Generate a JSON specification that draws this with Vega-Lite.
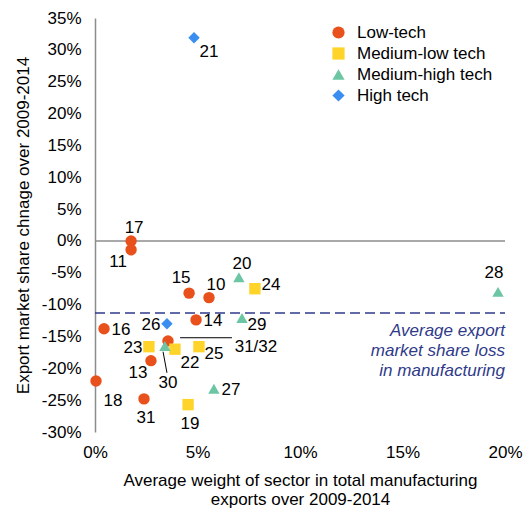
{
  "$schema": "https://vega.github.io/schema/vega-lite/v6.json",
  "width": 410,
  "height": 414,
  "autosize": {"type": "none"},
  "padding": {"left": 95, "top": 18, "right": 21, "bottom": 78},
  "background": "white",
  "config": {
    "font": "Liberation Sans",
    "view": {"stroke": null},
    "text": {"font": "Liberation Sans", "fontSize": 17, "color": "#000"}
  },
  "datasets": {
    "pts": [
      {"label": "17", "cat": "Low-tech", "x": 1.76, "y": 0.0},
      {"label": "11", "cat": "Low-tech", "x": 1.76, "y": -1.4},
      {"label": "15", "cat": "Low-tech", "x": 4.59, "y": -8.2},
      {"label": "10", "cat": "Low-tech", "x": 5.56, "y": -8.9},
      {"label": "14", "cat": "Low-tech", "x": 4.93, "y": -12.4},
      {"label": "16", "cat": "Low-tech", "x": 0.44, "y": -13.8},
      {"label": "31/32", "cat": "Low-tech", "x": 3.56, "y": -15.7},
      {"label": "13", "cat": "Low-tech", "x": 2.73, "y": -18.8},
      {"label": "18", "cat": "Low-tech", "x": 0.05, "y": -22.0},
      {"label": "31", "cat": "Low-tech", "x": 2.39, "y": -24.8},
      {"label": "24", "cat": "Medium-low tech", "x": 7.8, "y": -7.5},
      {"label": "23", "cat": "Medium-low tech", "x": 2.63, "y": -16.6},
      {"label": "22", "cat": "Medium-low tech", "x": 3.9, "y": -17.0},
      {"label": "25", "cat": "Medium-low tech", "x": 5.07, "y": -16.6},
      {"label": "19", "cat": "Medium-low tech", "x": 4.54, "y": -25.7},
      {"label": "20", "cat": "Medium-high tech", "x": 7.02, "y": -5.7},
      {"label": "28", "cat": "Medium-high tech", "x": 19.66, "y": -8.0},
      {"label": "29", "cat": "Medium-high tech", "x": 7.17, "y": -12.1},
      {"label": "30", "cat": "Medium-high tech", "x": 3.41, "y": -16.5},
      {"label": "27", "cat": "Medium-high tech", "x": 5.8, "y": -23.2},
      {"label": "21", "cat": "High tech", "x": 4.83, "y": 31.9},
      {"label": "26", "cat": "High tech", "x": 3.51, "y": -13.0}
    ],
    "zero": [{"x": 0, "x2": 20, "y": 0}],
    "avg": [{"x": 0, "x2": 20, "y": -11.3}],
    "leaders": [
      {"x": 4.15, "x2": 6.68, "y": -15.2, "y2": -15.2},
      {"x": 3.32, "x2": 3.51, "y": -17.4, "y2": -20.7}
    ]
  },
  "encoding": {
    "x": {
      "field": "x", "type": "quantitative",
      "scale": {"domain": [0, 20], "nice": false, "zero": false},
      "axis": {
        "values": [0, 5, 10, 15, 20],
        "labelExpr": "datum.value + '%'",
        "domain": false, "ticks": false, "grid": false, "labelFlush": false,
        "labelOverlap": false, "labelBound": false,
        "labelFontSize": 17, "labelColor": "#000", "labelPadding": 12,
        "labelFont": "Liberation Sans",
        "title": ["Average weight of sector in total manufacturing", "exports over 2009-2014"],
        "titleFontSize": 17, "titleFontWeight": "normal", "titleColor": "#000",
        "titleFont": "Liberation Sans", "titlePadding": 12, "titleLineHeight": 19
      }
    },
    "y": {
      "field": "y", "type": "quantitative",
      "scale": {"domain": [-30, 35], "nice": false, "zero": false},
      "axis": {
        "values": [-30, -25, -20, -15, -10, -5, 0, 5, 10, 15, 20, 25, 30, 35],
        "labelExpr": "datum.value + '%'",
        "domain": true, "domainColor": "#8c8c8c", "domainWidth": 1.5,
        "ticks": false, "grid": false, "labelFlush": false,
        "labelOverlap": false, "labelBound": false,
        "labelFontSize": 17, "labelColor": "#000", "labelPadding": 14,
        "labelFont": "Liberation Sans",
        "title": "Export market share chnage over 2009-2014",
        "titleFontSize": 17, "titleFontWeight": "normal", "titleColor": "#000",
        "titleFont": "Liberation Sans", "titlePadding": 9
      }
    }
  },
  "layer": [
    {
      "data": {"name": "zero"},
      "mark": {"type": "rule", "color": "#8c8c8c", "strokeWidth": 1.5},
      "encoding": {"x2": {"field": "x2"}}
    },
    {
      "data": {"name": "avg"},
      "mark": {"type": "rule", "color": "#2F3A8A", "strokeWidth": 1.5, "strokeDash": [10, 5]},
      "encoding": {"x2": {"field": "x2"}}
    },
    {
      "data": {"name": "avg"},
      "mark": {"type": "text", "align": "right", "baseline": "top", "fontStyle": "italic", "color": "#2F3A8A", "lineBreak": "\n", "lineHeight": 20, "dy": 10, "text": "Average export\nmarket share loss\nin manufacturing"},
      "encoding": {"x": {"field": "x2", "type": "quantitative"}}
    },
    {
      "data": {"name": "leaders"},
      "mark": {"type": "rule", "color": "#000", "strokeWidth": 1},
      "encoding": {"x2": {"field": "x2"}, "y2": {"field": "y2"}}
    },
    {
      "data": {"name": "pts"},
      "mark": {"type": "point", "filled": true, "opacity": 1, "size": 130},
      "encoding": {
        "color": {
          "field": "cat", "type": "nominal",
          "scale": {
            "domain": ["Low-tech", "Medium-low tech", "Medium-high tech", "High tech"],
            "range": ["#E8501C", "#FFD42A", "#6CC6A4", "#3A8EF0"]
          },
          "legend": {
            "title": null, "orient": "none", "legendX": 235, "legendY": 6,
            "labelFontSize": 17, "labelColor": "#000", "labelFont": "Liberation Sans",
            "symbolSize": 150, "rowPadding": 3, "labelOffset": 10,
            "symbolStrokeWidth": 0
          }
        },
        "shape": {
          "field": "cat", "type": "nominal",
          "scale": {
            "domain": ["Low-tech", "Medium-low tech", "Medium-high tech", "High tech"],
            "range": ["circle", "square", "triangle-up", "diamond"]
          },
          "legend": {
            "title": null, "orient": "none", "legendX": 235, "legendY": 6,
            "labelFontSize": 17, "labelColor": "#000", "labelFont": "Liberation Sans",
            "symbolSize": 150, "rowPadding": 3, "labelOffset": 10,
            "symbolStrokeWidth": 0
          }
        }
      }
    },
    {
      "data": {"name": "pts"},
      "transform": [{"filter": {"field": "label", "oneOf": ["14", "16", "27"]}}],
      "mark": {"type": "text", "align": "center", "baseline": "middle", "dx": 17, "dy": 1},
      "encoding": {"text": {"field": "label"}}
    },
    {
      "data": {"name": "pts"},
      "transform": [{"filter": {"field": "label", "oneOf": ["24"]}}],
      "mark": {"type": "text", "align": "center", "baseline": "middle", "dx": 16, "dy": -4},
      "encoding": {"text": {"field": "label"}}
    },
    {
      "data": {"name": "pts"},
      "transform": [{"filter": {"field": "label", "oneOf": ["25", "29"]}}],
      "mark": {"type": "text", "align": "center", "baseline": "middle", "dx": 15, "dy": 7},
      "encoding": {"text": {"field": "label"}}
    },
    {
      "data": {"name": "pts"},
      "transform": [{"filter": {"field": "label", "oneOf": ["21", "22"]}}],
      "mark": {"type": "text", "align": "center", "baseline": "middle", "dx": 15, "dy": 14},
      "encoding": {"text": {"field": "label"}}
    },
    {
      "data": {"name": "pts"},
      "transform": [{"filter": {"field": "label", "oneOf": ["18"]}}],
      "mark": {"type": "text", "align": "center", "baseline": "middle", "dx": 17, "dy": 20},
      "encoding": {"text": {"field": "label"}}
    },
    {
      "data": {"name": "pts"},
      "transform": [{"filter": {"field": "label", "oneOf": ["17", "20"]}}],
      "mark": {"type": "text", "align": "center", "baseline": "middle", "dx": 3, "dy": -13},
      "encoding": {"text": {"field": "label"}}
    },
    {
      "data": {"name": "pts"},
      "transform": [{"filter": {"field": "label", "oneOf": ["15"]}}],
      "mark": {"type": "text", "align": "center", "baseline": "middle", "dx": -8, "dy": -15},
      "encoding": {"text": {"field": "label"}}
    },
    {
      "data": {"name": "pts"},
      "transform": [{"filter": {"field": "label", "oneOf": ["10"]}}],
      "mark": {"type": "text", "align": "center", "baseline": "middle", "dx": 7, "dy": -13},
      "encoding": {"text": {"field": "label"}}
    },
    {
      "data": {"name": "pts"},
      "transform": [{"filter": {"field": "label", "oneOf": ["28"]}}],
      "mark": {"type": "text", "align": "center", "baseline": "middle", "dx": -4, "dy": -19},
      "encoding": {"text": {"field": "label"}}
    },
    {
      "data": {"name": "pts"},
      "transform": [{"filter": {"field": "label", "oneOf": ["26", "23"]}}],
      "mark": {"type": "text", "align": "center", "baseline": "middle", "dx": -16, "dy": 1},
      "encoding": {"text": {"field": "label"}}
    },
    {
      "data": {"name": "pts"},
      "transform": [{"filter": {"field": "label", "oneOf": ["11", "13"]}}],
      "mark": {"type": "text", "align": "center", "baseline": "middle", "dx": -13, "dy": 12},
      "encoding": {"text": {"field": "label"}}
    },
    {
      "data": {"name": "pts"},
      "transform": [{"filter": {"field": "label", "oneOf": ["31", "19"]}}],
      "mark": {"type": "text", "align": "center", "baseline": "middle", "dx": 2, "dy": 19},
      "encoding": {"text": {"field": "label"}}
    },
    {
      "data": {"name": "pts"},
      "transform": [{"filter": {"field": "label", "oneOf": ["30"]}}],
      "mark": {"type": "text", "align": "center", "baseline": "middle", "dx": 3, "dy": 37},
      "encoding": {"text": {"field": "label"}}
    },
    {
      "data": {"name": "pts"},
      "transform": [{"filter": {"field": "label", "oneOf": ["31/32"]}}],
      "mark": {"type": "text", "align": "center", "baseline": "middle", "dx": 88, "dy": 6},
      "encoding": {"text": {"field": "label"}}
    }
  ]
}
